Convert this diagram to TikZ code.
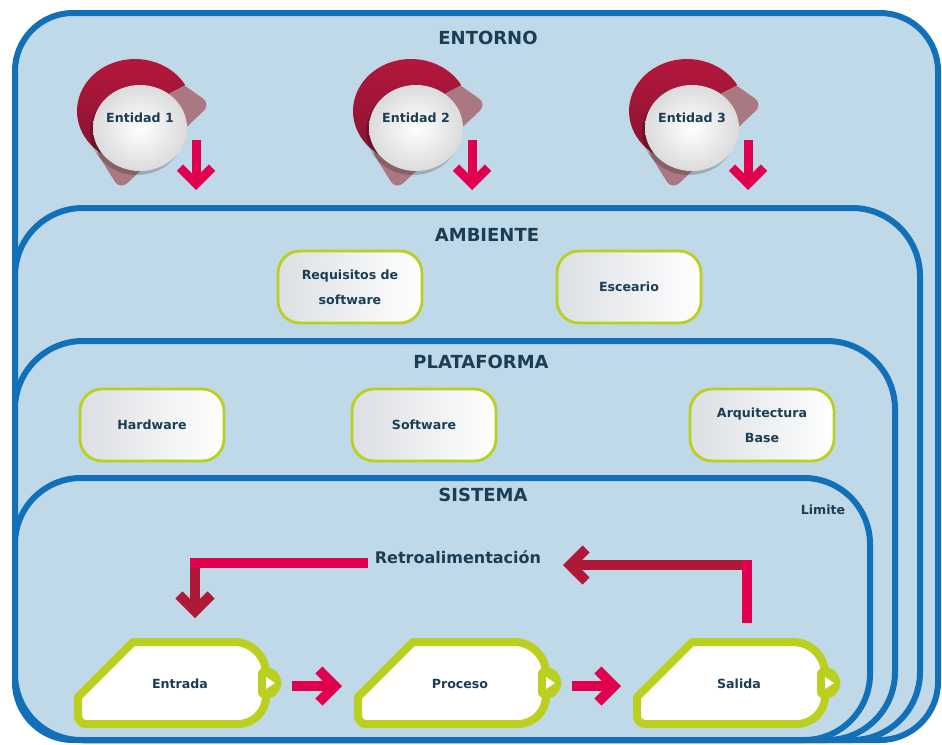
\documentclass[tikz,border=0pt]{standalone}
\usepackage{fontspec}
\setmainfont{DejaVu Sans}
\usetikzlibrary{arrows.meta}

\definecolor{envfill}{HTML}{C0D9E8}
\definecolor{envline}{HTML}{1270B8}
\definecolor{ink}{HTML}{1B3E54}
\definecolor{crimson}{HTML}{B8173C}
\definecolor{crimsondark}{HTML}{841430}
\definecolor{feedred}{HTML}{B01838}
\definecolor{mauve}{HTML}{AA7880}
\definecolor{hotpink}{HTML}{E1004E}
\definecolor{lime}{HTML}{BBCF1E}
\definecolor{cardgrey}{HTML}{DCDFE3}

\tikzset{
  envbox/.style={draw=envline, line width=6pt, fill=envfill},
  ttl/.style={text=ink, font=\bfseries\fontsize{18}{22}\selectfont, inner sep=0pt},
  lbl/.style={text=ink, font=\bfseries\fontsize{12.6}{25}\selectfont, align=center, inner sep=0pt},
  card/.style={draw=lime, line width=2.8pt, rounded corners=22pt,
    left color=cardgrey, right color=white,
    minimum width=144pt, minimum height=72pt,
    text=ink, font=\bfseries\fontsize{12.6}{25}\selectfont, align=center},
  barbtip/.style={-{Straight Barb[length=16pt, width=32pt, line join=miter, line cap=butt]}},
  flowarrow/.style={hotpink, line width=10pt, barbtip},
  dropArrow/.style={hotpink, line width=9pt, barbtip},
  feedarrow/.style={feedred, line width=10pt, barbtip},
  feedbar/.style={hotpink, line width=10pt, line cap=rect},
  % an entity badge: mauve backing, crimson crescent, white disc
  entity/.pic={
    \fill[mauve, rounded corners=10pt] (25,-46) -- (71,-14) -- (-20,72) -- (-46,30) -- cycle;
    \shade[top color=crimson, bottom color=crimsondark]
      (-5,-7) -- ++(-30:58 and 52)
      arc[start angle=-30, end angle=-250, x radius=58, y radius=52] -- cycle;
    \fill[black, opacity=0.2] (-3,14) ellipse[x radius=47, y radius=43];
    \shade[inner color=white, outer color=gray!28] (0,10) ellipse[x radius=47, y radius=43];
    \node[lbl] (-txt) at (0,0) {#1};
    \coordinate (-top) at (56,22);
    \coordinate (-tip) at (56,72);
  },
  % a process block of the system, origin at its lower left corner
  proc/.pic={
    \draw[lime, line width=8pt, fill=white, line join=round]
      (0,-27) -- (55,-82) -- (156,-82)
      arc[start angle=-90, end angle=0, radius=32] -- (188,-28)
      arc[start angle=0, end angle=90, radius=28] -- (8,0)
      arc[start angle=90, end angle=180, radius=8] -- cycle;
    \fill[lime, rounded corners=6pt] (180,-56) -- (197,-56) -- (205,-41) -- (197,-26) -- (180,-26) -- cycle;
    \fill[white] (188,-47) -- (197,-41) -- (188,-35) -- cycle;
    \node[lbl] (-txt) at (102,-40) {#1};
    \coordinate (-out) at (214,-38);
    \coordinate (-in) at (-16,-38);
    \coordinate (-fbin) at (117,-106);
    \coordinate (-fbout) at (110,-106);
  }
}

\begin{document}
\begin{tikzpicture}[x=1pt, y=-1pt]
\fill[white] (0,0) rectangle (942,744);
\useasboundingbox (0,0) rectangle (942,744);

% nested layers
\draw[envbox, rounded corners=58pt] (15,13) rectangle (938,740);
\draw[envbox, rounded corners=68pt] (15,208) rectangle (920,740);
\draw[envbox, rounded corners=68pt] (15,341) rectangle (895,740);
\draw[envbox, rounded corners=66pt] (15,478) rectangle (870,740);

\node[ttl] (entorno) at (488,38) {ENTORNO};
\node[ttl] (ambiente) at (487,235) {AMBIENTE};
\node[ttl] (plataforma) at (481,362) {PLATAFORMA};
\node[ttl] (sistema) at (483,495) {SISTEMA};
\node[lbl] (limite) at (823,510) {Limite};

% entities of the environment
\pic (e1) at (140,118) {entity={Entidad 1}};
\pic (e2) at (416,118) {entity={Entidad 2}};
\pic (e3) at (692,118) {entity={Entidad 3}};
\draw[dropArrow] (e1-top) -- (e1-tip);
\draw[dropArrow] (e2-top) -- (e2-tip);
\draw[dropArrow] (e3-top) -- (e3-tip);

% environment and platform elements
\node[card] (req) at (350,287) {Requisitos de\\software};
\node[card] (esc) at (629,287) {Esceario};
\node[card] (hw) at (152,425) {Hardware};
\node[card] (sw) at (424,425) {Software};
\node[card] (arq) at (762,425) {Arquitectura\\Base};

% system flow
\pic (entrada) at (78,724) {proc={Entrada}};
\pic (proceso) at (358,724) {proc={Proceso}};
\pic (salida) at (637,724) {proc={Salida}};
\draw[flowarrow] (entrada-out) -- (proceso-in);
\draw[flowarrow] (proceso-out) -- (salida-in);

% feedback loop
\node[text=ink, font=\bfseries\fontsize{16}{20}\selectfont, inner sep=0pt] (retro) at (458,557) {Retroalimentación};
\coordinate (fbstart) at (363,563);
\coordinate (fbleft) at (195,563);
\coordinate (fbright) at (747,565);
\coordinate (fbtip) at (563,565);
\draw[feedarrow] (fbleft) -- (entrada-fbin);
\draw[feedbar] (fbstart) -- (fbleft);
\draw[feedarrow] (fbright) -- (fbtip);
\draw[feedbar] (salida-fbout) -- (fbright);
\end{tikzpicture}
\end{document}
